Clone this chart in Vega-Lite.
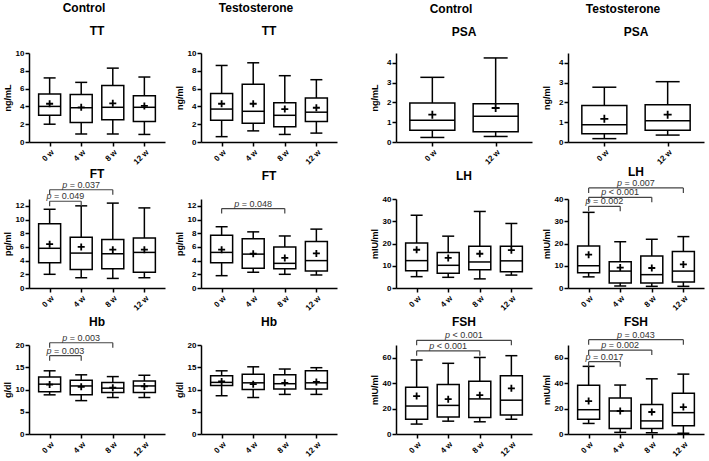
{
"$schema":"https://vega.github.io/schema/vega-lite/v6.json",
"background":"white",
"padding":{"left":3,"top":2,"right":2,"bottom":1},
"config":{
"view":{"stroke":null},
"font":"Liberation Sans",
"axis":{"grid":false,"domainColor":"black","domainWidth":1.5,"tickColor":"black","tickWidth":1.5,"tickSize":4,"labelFont":"Liberation Sans","labelFontWeight":"bold","labelFontSize":8,"labelColor":"black","labelPadding":1,"labelOverlap":false,"labelFlush":false,"labelBound":false,"titleFont":"Liberation Sans","titleFontWeight":"bold","titleFontSize":9,"titleColor":"black","titlePadding":3},
"axisX":{"labelAngle":-45,"labelPadding":2},
"axisY":{"minExtent":14,"maxExtent":14},
"title":{"font":"Liberation Sans","fontSize":12,"fontWeight":"bold","color":"black","anchor":"middle"}
},
"datasets":{
"boxes":[
{"panel":"C-TT","week":0,"min":2.0,"q1":3.0,"median":4.0,"q3":5.4,"max":7.2,"mean":4.3},
{"panel":"C-TT","week":4,"min":0.9,"q1":2.2,"median":3.85,"q3":5.35,"max":6.7,"mean":3.9},
{"panel":"C-TT","week":8,"min":0.9,"q1":2.5,"median":3.9,"q3":6.35,"max":8.3,"mean":4.35},
{"panel":"C-TT","week":12,"min":0.85,"q1":2.3,"median":3.9,"q3":5.2,"max":7.3,"mean":4.05},
{"panel":"T-TT","week":0,"min":0.6,"q1":2.45,"median":3.7,"q3":5.45,"max":8.6,"mean":4.3},
{"panel":"T-TT","week":4,"min":1.25,"q1":2.1,"median":3.45,"q3":6.5,"max":8.9,"mean":4.3},
{"panel":"T-TT","week":8,"min":0.85,"q1":1.7,"median":3.0,"q3":4.4,"max":7.45,"mean":3.7},
{"panel":"T-TT","week":12,"min":1.0,"q1":2.3,"median":3.35,"q3":4.95,"max":7.0,"mean":3.85},
{"panel":"C-PSA","week":0,"min":0.23,"q1":0.6,"median":1.1,"q3":1.97,"max":3.27,"mean":1.38},
{"panel":"C-PSA","week":12,"min":0.28,"q1":0.52,"median":1.3,"q3":1.93,"max":4.25,"mean":1.72},
{"panel":"T-PSA","week":0,"min":0.17,"q1":0.42,"median":0.87,"q3":1.85,"max":2.77,"mean":1.17},
{"panel":"T-PSA","week":12,"min":0.35,"q1":0.6,"median":1.08,"q3":1.88,"max":3.05,"mean":1.38},
{"panel":"C-FT","week":0,"min":2.0,"q1":3.7,"median":5.8,"q3":9.4,"max":11.5,"mean":6.4},
{"panel":"C-FT","week":4,"min":1.5,"q1":2.7,"median":5.1,"q3":7.4,"max":12.0,"mean":6.0},
{"panel":"C-FT","week":8,"min":1.4,"q1":2.8,"median":5.0,"q3":7.1,"max":12.4,"mean":5.6},
{"panel":"C-FT","week":12,"min":1.5,"q1":2.3,"median":5.2,"q3":7.3,"max":11.7,"mean":5.6},
{"panel":"T-FT","week":0,"min":1.8,"q1":3.7,"median":5.2,"q3":7.7,"max":8.95,"mean":5.6},
{"panel":"T-FT","week":4,"min":2.3,"q1":2.9,"median":4.95,"q3":7.2,"max":8.2,"mean":5.0},
{"panel":"T-FT","week":8,"min":2.0,"q1":2.8,"median":3.6,"q3":6.0,"max":7.6,"mean":4.4},
{"panel":"T-FT","week":12,"min":1.9,"q1":2.5,"median":4.0,"q3":6.8,"max":8.6,"mean":5.05},
{"panel":"C-LH","week":0,"min":5.1,"q1":7.8,"median":12.3,"q3":20.2,"max":32.7,"mean":17.2},
{"panel":"C-LH","week":4,"min":4.8,"q1":6.6,"median":10.2,"q3":15.9,"max":23.3,"mean":13.5},
{"panel":"C-LH","week":8,"min":4.1,"q1":8.2,"median":11.7,"q3":18.8,"max":34.4,"mean":15.4},
{"panel":"C-LH","week":12,"min":5.8,"q1":7.3,"median":12.2,"q3":18.8,"max":29.0,"mean":17.0},
{"panel":"T-LH","week":0,"min":5.0,"q1":6.8,"median":10.0,"q3":18.9,"max":34.0,"mean":15.0},
{"panel":"T-LH","week":4,"min":0.9,"q1":2.3,"median":7.6,"q3":11.8,"max":20.8,"mean":9.2},
{"panel":"T-LH","week":8,"min":0.75,"q1":2.2,"median":6.0,"q3":14.4,"max":21.9,"mean":9.0},
{"panel":"T-LH","week":12,"min":0.75,"q1":2.7,"median":7.6,"q3":16.4,"max":23.1,"mean":10.6},
{"panel":"C-Hb","week":0,"min":8.8,"q1":9.5,"median":11.2,"q3":12.8,"max":14.2,"mean":11.1},
{"panel":"C-Hb","week":4,"min":7.5,"q1":8.8,"median":10.8,"q3":12.1,"max":13.3,"mean":10.6},
{"panel":"C-Hb","week":8,"min":8.2,"q1":9.3,"median":10.3,"q3":11.6,"max":12.9,"mean":10.4},
{"panel":"C-Hb","week":12,"min":8.2,"q1":9.3,"median":10.8,"q3":11.9,"max":13.2,"mean":10.7},
{"panel":"T-Hb","week":0,"min":8.6,"q1":10.9,"median":11.6,"q3":13.1,"max":14.2,"mean":11.8},
{"panel":"T-Hb","week":4,"min":8.2,"q1":10.0,"median":11.5,"q3":13.4,"max":15.1,"mean":11.2},
{"panel":"T-Hb","week":8,"min":8.9,"q1":10.1,"median":11.3,"q3":13.3,"max":14.6,"mean":11.5},
{"panel":"T-Hb","week":12,"min":8.9,"q1":10.1,"median":11.5,"q3":14.2,"max":14.9,"mean":11.7},
{"panel":"C-FSH","week":0,"min":7.8,"q1":11.6,"median":22.0,"q3":36.7,"max":58.2,"mean":29.8},
{"panel":"C-FSH","week":4,"min":10.1,"q1":13.4,"median":22.5,"q3":39.0,"max":55.6,"mean":27.4},
{"panel":"C-FSH","week":8,"min":9.6,"q1":12.9,"median":27.6,"q3":41.5,"max":60.2,"mean":30.5},
{"panel":"C-FSH","week":12,"min":11.6,"q1":15.0,"median":26.6,"q3":45.8,"max":61.6,"mean":35.9},
{"panel":"T-FSH","week":0,"min":8.3,"q1":11.6,"median":19.1,"q3":38.3,"max":53.2,"mean":25.9},
{"panel":"T-FSH","week":4,"min":1.3,"q1":4.4,"median":18.1,"q3":28.4,"max":38.5,"mean":18.1},
{"panel":"T-FSH","week":8,"min":1.0,"q1":4.4,"median":10.3,"q3":23.3,"max":43.4,"mean":17.3},
{"panel":"T-FSH","week":12,"min":0.6,"q1":6.5,"median":16.8,"q3":32.1,"max":47.1,"mean":21.2}
],
"brackets":[
{"panel":"C-FT","from":0,"to":8,"mid":4,"level":14.35,"label":"= 0.037"},
{"panel":"C-FT","from":0,"to":4,"mid":2,"level":12.67,"label":"= 0.049"},
{"panel":"T-FT","from":0,"to":8,"mid":4,"level":11.6,"label":"= 0.048"},
{"panel":"T-LH","from":0,"to":12,"mid":6,"level":45.0,"label":"= 0.007"},
{"panel":"T-LH","from":0,"to":8,"mid":4,"level":40.75,"label":"< 0.001"},
{"panel":"T-LH","from":0,"to":4,"mid":2,"level":36.7,"label":"= 0.002"},
{"panel":"C-Hb","from":0,"to":8,"mid":4,"level":20.5,"label":"= 0.003"},
{"panel":"C-Hb","from":0,"to":4,"mid":2,"level":17.6,"label":"= 0.003"},
{"panel":"C-FSH","from":0,"to":12,"mid":6,"level":73.7,"label":"< 0.001"},
{"panel":"C-FSH","from":0,"to":8,"mid":4,"level":65.4,"label":"< 0.001"},
{"panel":"T-FSH","from":0,"to":12,"mid":6,"level":74.2,"label":"= 0.043"},
{"panel":"T-FSH","from":0,"to":8,"mid":4,"level":66.0,"label":"= 0.002"},
{"panel":"T-FSH","from":0,"to":4,"mid":2,"level":56.9,"label":"= 0.017"}
]
},
"spacing":33,
"hconcat":[
{"spacing":10,"hconcat":[
{"title":{"text":"Control","offset":10},"spacing":57,"bounds":"flush","vconcat":[
{"width":136,"height":89,"title":{"text":"TT","offset":11},"layer":[
{"data":{"name":"boxes"},"transform":[{"filter":{"field":"panel","equal":"C-TT"}}],
"encoding":{"x":{"field":"week","type":"quantitative","scale":{"domain":[-1.98,13.98],"nice":false,"zero":false},"axis":{"values":[0,4,8,12],"tickCount":20,"labelExpr":"datum.value + ' w'","title":null}}},
"layer":[
{"mark":{"type":"rule","color":"black","strokeWidth":1.5},"encoding":{"y":{"field":"min","type":"quantitative","scale":{"domain":[0,10],"nice":false,"zero":false},"axis":{"values":[0,2,4,6,8,10],"tickCount":20,"format":"d","title":"ng/mL"}},"y2":{"field":"max"}}},
{"mark":{"type":"bar","fill":"white","stroke":"black","strokeWidth":1.5,"size":22},"encoding":{"y":{"field":"q1","type":"quantitative"},"y2":{"field":"q3"}}},
{"mark":{"type":"tick","orient":"horizontal","color":"black","size":12,"thickness":1.5,"opacity":1},"encoding":{"y":{"field":"min","type":"quantitative"}}},
{"mark":{"type":"tick","orient":"horizontal","color":"black","size":12,"thickness":1.5,"opacity":1},"encoding":{"y":{"field":"max","type":"quantitative"}}},
{"mark":{"type":"tick","orient":"horizontal","color":"black","size":22,"thickness":1.5,"opacity":1},"encoding":{"y":{"field":"median","type":"quantitative"}}},
{"mark":{"type":"point","shape":"M-1,0L1,0M0,-1L0,1","size":49,"color":"black","strokeWidth":1.8,"filled":false,"opacity":1},"encoding":{"y":{"field":"mean","type":"quantitative"}}}
]}]},
{"width":136,"height":89,"title":{"text":"FT","offset":0},"layer":[
{"data":{"name":"boxes"},"transform":[{"filter":{"field":"panel","equal":"C-FT"}}],
"encoding":{"x":{"field":"week","type":"quantitative","scale":{"domain":[-1.98,13.98],"nice":false,"zero":false},"axis":{"values":[0,4,8,12],"tickCount":20,"labelExpr":"datum.value + ' w'","title":null}}},
"layer":[
{"mark":{"type":"rule","color":"black","strokeWidth":1.5},"encoding":{"y":{"field":"min","type":"quantitative","scale":{"domain":[0,13],"nice":false,"zero":false},"axis":{"values":[0,2,4,6,8,10,12],"tickCount":20,"format":"d","title":"pg/ml"}},"y2":{"field":"max"}}},
{"mark":{"type":"bar","fill":"white","stroke":"black","strokeWidth":1.5,"size":22},"encoding":{"y":{"field":"q1","type":"quantitative"},"y2":{"field":"q3"}}},
{"mark":{"type":"tick","orient":"horizontal","color":"black","size":12,"thickness":1.5,"opacity":1},"encoding":{"y":{"field":"min","type":"quantitative"}}},
{"mark":{"type":"tick","orient":"horizontal","color":"black","size":12,"thickness":1.5,"opacity":1},"encoding":{"y":{"field":"max","type":"quantitative"}}},
{"mark":{"type":"tick","orient":"horizontal","color":"black","size":22,"thickness":1.5,"opacity":1},"encoding":{"y":{"field":"median","type":"quantitative"}}},
{"mark":{"type":"point","shape":"M-1,0L1,0M0,-1L0,1","size":49,"color":"black","strokeWidth":1.8,"filled":false,"opacity":1},"encoding":{"y":{"field":"mean","type":"quantitative"}}}
]},
{"data":{"name":"brackets"},"transform":[{"filter":{"field":"panel","equal":"C-FT"}}],"layer":[
{"mark":{"type":"rule","color":"#444","strokeWidth":1.2},"encoding":{"x":{"field":"from","type":"quantitative"},"x2":{"field":"to"},"y":{"field":"level","type":"quantitative"}}},
{"mark":{"type":"tick","orient":"vertical","color":"#444","size":5,"thickness":1.2,"yOffset":2.5,"opacity":1},"encoding":{"x":{"field":"from","type":"quantitative"},"y":{"field":"level","type":"quantitative"}}},
{"mark":{"type":"tick","orient":"vertical","color":"#444","size":5,"thickness":1.2,"yOffset":2.5,"opacity":1},"encoding":{"x":{"field":"to","type":"quantitative"},"y":{"field":"level","type":"quantitative"}}},
{"mark":{"type":"text","text":"p","fontStyle":"italic","align":"left","baseline":"alphabetic","dx":-19,"dy":-2,"fontSize":9,"color":"#333"},"encoding":{"x":{"field":"mid","type":"quantitative"},"y":{"field":"level","type":"quantitative"}}},
{"mark":{"type":"text","align":"left","baseline":"alphabetic","dx":-11.5,"dy":-2,"fontSize":9,"color":"#333"},"encoding":{"x":{"field":"mid","type":"quantitative"},"y":{"field":"level","type":"quantitative"},"text":{"field":"label"}}}
]}]},
{"width":136,"height":89,"title":{"text":"Hb","offset":5},"layer":[
{"data":{"name":"boxes"},"transform":[{"filter":{"field":"panel","equal":"C-Hb"}}],
"encoding":{"x":{"field":"week","type":"quantitative","scale":{"domain":[-1.98,13.98],"nice":false,"zero":false},"axis":{"values":[0,4,8,12],"tickCount":20,"labelExpr":"datum.value + ' w'","title":null}}},
"layer":[
{"mark":{"type":"rule","color":"black","strokeWidth":1.5},"encoding":{"y":{"field":"min","type":"quantitative","scale":{"domain":[0,20],"nice":false,"zero":false},"axis":{"values":[0,5,10,15,20],"tickCount":20,"format":"d","title":"g/dl"}},"y2":{"field":"max"}}},
{"mark":{"type":"bar","fill":"white","stroke":"black","strokeWidth":1.5,"size":22},"encoding":{"y":{"field":"q1","type":"quantitative"},"y2":{"field":"q3"}}},
{"mark":{"type":"tick","orient":"horizontal","color":"black","size":12,"thickness":1.5,"opacity":1},"encoding":{"y":{"field":"min","type":"quantitative"}}},
{"mark":{"type":"tick","orient":"horizontal","color":"black","size":12,"thickness":1.5,"opacity":1},"encoding":{"y":{"field":"max","type":"quantitative"}}},
{"mark":{"type":"tick","orient":"horizontal","color":"black","size":22,"thickness":1.5,"opacity":1},"encoding":{"y":{"field":"median","type":"quantitative"}}},
{"mark":{"type":"point","shape":"M-1,0L1,0M0,-1L0,1","size":49,"color":"black","strokeWidth":1.8,"filled":false,"opacity":1},"encoding":{"y":{"field":"mean","type":"quantitative"}}}
]},
{"data":{"name":"brackets"},"transform":[{"filter":{"field":"panel","equal":"C-Hb"}}],"layer":[
{"mark":{"type":"rule","color":"#444","strokeWidth":1.2},"encoding":{"x":{"field":"from","type":"quantitative"},"x2":{"field":"to"},"y":{"field":"level","type":"quantitative"}}},
{"mark":{"type":"tick","orient":"vertical","color":"#444","size":5,"thickness":1.2,"yOffset":2.5,"opacity":1},"encoding":{"x":{"field":"from","type":"quantitative"},"y":{"field":"level","type":"quantitative"}}},
{"mark":{"type":"tick","orient":"vertical","color":"#444","size":5,"thickness":1.2,"yOffset":2.5,"opacity":1},"encoding":{"x":{"field":"to","type":"quantitative"},"y":{"field":"level","type":"quantitative"}}},
{"mark":{"type":"text","text":"p","fontStyle":"italic","align":"left","baseline":"alphabetic","dx":-19,"dy":-2,"fontSize":9,"color":"#333"},"encoding":{"x":{"field":"mid","type":"quantitative"},"y":{"field":"level","type":"quantitative"}}},
{"mark":{"type":"text","align":"left","baseline":"alphabetic","dx":-11.5,"dy":-2,"fontSize":9,"color":"#333"},"encoding":{"x":{"field":"mid","type":"quantitative"},"y":{"field":"level","type":"quantitative"},"text":{"field":"label"}}}
]}]}
]},
{"title":{"text":"Testosterone","offset":10},"spacing":57,"bounds":"flush","vconcat":[
{"width":136,"height":89,"title":{"text":"TT","offset":11},"layer":[
{"data":{"name":"boxes"},"transform":[{"filter":{"field":"panel","equal":"T-TT"}}],
"encoding":{"x":{"field":"week","type":"quantitative","scale":{"domain":[-1.98,13.98],"nice":false,"zero":false},"axis":{"values":[0,4,8,12],"tickCount":20,"labelExpr":"datum.value + ' w'","title":null}}},
"layer":[
{"mark":{"type":"rule","color":"black","strokeWidth":1.5},"encoding":{"y":{"field":"min","type":"quantitative","scale":{"domain":[0,10],"nice":false,"zero":false},"axis":{"values":[0,2,4,6,8,10],"tickCount":20,"format":"d","title":"ng/ml"}},"y2":{"field":"max"}}},
{"mark":{"type":"bar","fill":"white","stroke":"black","strokeWidth":1.5,"size":22},"encoding":{"y":{"field":"q1","type":"quantitative"},"y2":{"field":"q3"}}},
{"mark":{"type":"tick","orient":"horizontal","color":"black","size":12,"thickness":1.5,"opacity":1},"encoding":{"y":{"field":"min","type":"quantitative"}}},
{"mark":{"type":"tick","orient":"horizontal","color":"black","size":12,"thickness":1.5,"opacity":1},"encoding":{"y":{"field":"max","type":"quantitative"}}},
{"mark":{"type":"tick","orient":"horizontal","color":"black","size":22,"thickness":1.5,"opacity":1},"encoding":{"y":{"field":"median","type":"quantitative"}}},
{"mark":{"type":"point","shape":"M-1,0L1,0M0,-1L0,1","size":49,"color":"black","strokeWidth":1.8,"filled":false,"opacity":1},"encoding":{"y":{"field":"mean","type":"quantitative"}}}
]}]},
{"width":136,"height":89,"title":{"text":"FT","offset":16},"layer":[
{"data":{"name":"boxes"},"transform":[{"filter":{"field":"panel","equal":"T-FT"}}],
"encoding":{"x":{"field":"week","type":"quantitative","scale":{"domain":[-1.98,13.98],"nice":false,"zero":false},"axis":{"values":[0,4,8,12],"tickCount":20,"labelExpr":"datum.value + ' w'","title":null}}},
"layer":[
{"mark":{"type":"rule","color":"black","strokeWidth":1.5},"encoding":{"y":{"field":"min","type":"quantitative","scale":{"domain":[0,13],"nice":false,"zero":false},"axis":{"values":[0,2,4,6,8,10,12],"tickCount":20,"format":"d","title":"pg/ml"}},"y2":{"field":"max"}}},
{"mark":{"type":"bar","fill":"white","stroke":"black","strokeWidth":1.5,"size":22},"encoding":{"y":{"field":"q1","type":"quantitative"},"y2":{"field":"q3"}}},
{"mark":{"type":"tick","orient":"horizontal","color":"black","size":12,"thickness":1.5,"opacity":1},"encoding":{"y":{"field":"min","type":"quantitative"}}},
{"mark":{"type":"tick","orient":"horizontal","color":"black","size":12,"thickness":1.5,"opacity":1},"encoding":{"y":{"field":"max","type":"quantitative"}}},
{"mark":{"type":"tick","orient":"horizontal","color":"black","size":22,"thickness":1.5,"opacity":1},"encoding":{"y":{"field":"median","type":"quantitative"}}},
{"mark":{"type":"point","shape":"M-1,0L1,0M0,-1L0,1","size":49,"color":"black","strokeWidth":1.8,"filled":false,"opacity":1},"encoding":{"y":{"field":"mean","type":"quantitative"}}}
]},
{"data":{"name":"brackets"},"transform":[{"filter":{"field":"panel","equal":"T-FT"}}],"layer":[
{"mark":{"type":"rule","color":"#444","strokeWidth":1.2},"encoding":{"x":{"field":"from","type":"quantitative"},"x2":{"field":"to"},"y":{"field":"level","type":"quantitative"}}},
{"mark":{"type":"tick","orient":"vertical","color":"#444","size":5,"thickness":1.2,"yOffset":2.5,"opacity":1},"encoding":{"x":{"field":"from","type":"quantitative"},"y":{"field":"level","type":"quantitative"}}},
{"mark":{"type":"tick","orient":"vertical","color":"#444","size":5,"thickness":1.2,"yOffset":2.5,"opacity":1},"encoding":{"x":{"field":"to","type":"quantitative"},"y":{"field":"level","type":"quantitative"}}},
{"mark":{"type":"text","text":"p","fontStyle":"italic","align":"left","baseline":"alphabetic","dx":-19,"dy":-2,"fontSize":9,"color":"#333"},"encoding":{"x":{"field":"mid","type":"quantitative"},"y":{"field":"level","type":"quantitative"}}},
{"mark":{"type":"text","align":"left","baseline":"alphabetic","dx":-11.5,"dy":-2,"fontSize":9,"color":"#333"},"encoding":{"x":{"field":"mid","type":"quantitative"},"y":{"field":"level","type":"quantitative"},"text":{"field":"label"}}}
]}]},
{"width":136,"height":89,"title":{"text":"Hb","offset":12},"layer":[
{"data":{"name":"boxes"},"transform":[{"filter":{"field":"panel","equal":"T-Hb"}}],
"encoding":{"x":{"field":"week","type":"quantitative","scale":{"domain":[-1.98,13.98],"nice":false,"zero":false},"axis":{"values":[0,4,8,12],"tickCount":20,"labelExpr":"datum.value + ' w'","title":null}}},
"layer":[
{"mark":{"type":"rule","color":"black","strokeWidth":1.5},"encoding":{"y":{"field":"min","type":"quantitative","scale":{"domain":[0,20],"nice":false,"zero":false},"axis":{"values":[0,5,10,15,20],"tickCount":20,"format":"d","title":"g/dl"}},"y2":{"field":"max"}}},
{"mark":{"type":"bar","fill":"white","stroke":"black","strokeWidth":1.5,"size":22},"encoding":{"y":{"field":"q1","type":"quantitative"},"y2":{"field":"q3"}}},
{"mark":{"type":"tick","orient":"horizontal","color":"black","size":12,"thickness":1.5,"opacity":1},"encoding":{"y":{"field":"min","type":"quantitative"}}},
{"mark":{"type":"tick","orient":"horizontal","color":"black","size":12,"thickness":1.5,"opacity":1},"encoding":{"y":{"field":"max","type":"quantitative"}}},
{"mark":{"type":"tick","orient":"horizontal","color":"black","size":22,"thickness":1.5,"opacity":1},"encoding":{"y":{"field":"median","type":"quantitative"}}},
{"mark":{"type":"point","shape":"M-1,0L1,0M0,-1L0,1","size":49,"color":"black","strokeWidth":1.8,"filled":false,"opacity":1},"encoding":{"y":{"field":"mean","type":"quantitative"}}}
]}]}
]}
]},
{"spacing":10,"hconcat":[
{"title":{"text":"Control","offset":10},"spacing":57,"bounds":"flush","vconcat":[
{"width":136,"height":89,"title":{"text":"PSA","offset":14},"layer":[
{"data":{"name":"boxes"},"transform":[{"filter":{"field":"panel","equal":"C-PSA"}}],
"encoding":{"x":{"field":"week","type":"quantitative","scale":{"domain":[-5.94,17.94],"nice":false,"zero":false},"axis":{"values":[0,12],"tickCount":20,"labelExpr":"datum.value + ' w'","title":null}}},
"layer":[
{"mark":{"type":"rule","color":"black","strokeWidth":1.5},"encoding":{"y":{"field":"min","type":"quantitative","scale":{"domain":[0,4.5],"nice":false,"zero":false},"axis":{"values":[0,1,2,3,4],"tickCount":20,"format":"d","title":"ng/mL"}},"y2":{"field":"max"}}},
{"mark":{"type":"bar","fill":"white","stroke":"black","strokeWidth":1.5,"size":45},"encoding":{"y":{"field":"q1","type":"quantitative"},"y2":{"field":"q3"}}},
{"mark":{"type":"tick","orient":"horizontal","color":"black","size":24,"thickness":1.5,"opacity":1},"encoding":{"y":{"field":"min","type":"quantitative"}}},
{"mark":{"type":"tick","orient":"horizontal","color":"black","size":24,"thickness":1.5,"opacity":1},"encoding":{"y":{"field":"max","type":"quantitative"}}},
{"mark":{"type":"tick","orient":"horizontal","color":"black","size":45,"thickness":1.5,"opacity":1},"encoding":{"y":{"field":"median","type":"quantitative"}}},
{"mark":{"type":"point","shape":"M-1,0L1,0M0,-1L0,1","size":64,"color":"black","strokeWidth":1.8,"filled":false,"opacity":1},"encoding":{"y":{"field":"mean","type":"quantitative"}}}
]}]},
{"width":136,"height":89,"title":{"text":"LH","offset":12},"layer":[
{"data":{"name":"boxes"},"transform":[{"filter":{"field":"panel","equal":"C-LH"}}],
"encoding":{"x":{"field":"week","type":"quantitative","scale":{"domain":[-1.98,13.98],"nice":false,"zero":false},"axis":{"values":[0,4,8,12],"tickCount":20,"labelExpr":"datum.value + ' w'","title":null}}},
"layer":[
{"mark":{"type":"rule","color":"black","strokeWidth":1.5},"encoding":{"y":{"field":"min","type":"quantitative","scale":{"domain":[0,40],"nice":false,"zero":false},"axis":{"values":[0,10,20,30,40],"tickCount":20,"format":"d","title":"mIU/ml"}},"y2":{"field":"max"}}},
{"mark":{"type":"bar","fill":"white","stroke":"black","strokeWidth":1.5,"size":22},"encoding":{"y":{"field":"q1","type":"quantitative"},"y2":{"field":"q3"}}},
{"mark":{"type":"tick","orient":"horizontal","color":"black","size":12,"thickness":1.5,"opacity":1},"encoding":{"y":{"field":"min","type":"quantitative"}}},
{"mark":{"type":"tick","orient":"horizontal","color":"black","size":12,"thickness":1.5,"opacity":1},"encoding":{"y":{"field":"max","type":"quantitative"}}},
{"mark":{"type":"tick","orient":"horizontal","color":"black","size":22,"thickness":1.5,"opacity":1},"encoding":{"y":{"field":"median","type":"quantitative"}}},
{"mark":{"type":"point","shape":"M-1,0L1,0M0,-1L0,1","size":49,"color":"black","strokeWidth":1.8,"filled":false,"opacity":1},"encoding":{"y":{"field":"mean","type":"quantitative"}}}
]}]},
{"width":136,"height":89,"title":{"text":"FSH","offset":2},"layer":[
{"data":{"name":"boxes"},"transform":[{"filter":{"field":"panel","equal":"C-FSH"}}],
"encoding":{"x":{"field":"week","type":"quantitative","scale":{"domain":[-1.98,13.98],"nice":false,"zero":false},"axis":{"values":[0,4,8,12],"tickCount":20,"labelExpr":"datum.value + ' w'","title":null}}},
"layer":[
{"mark":{"type":"rule","color":"black","strokeWidth":1.5},"encoding":{"y":{"field":"min","type":"quantitative","scale":{"domain":[0,70],"nice":false,"zero":false},"axis":{"values":[0,20,40,60],"tickCount":20,"format":"d","title":"mIU/ml"}},"y2":{"field":"max"}}},
{"mark":{"type":"bar","fill":"white","stroke":"black","strokeWidth":1.5,"size":22},"encoding":{"y":{"field":"q1","type":"quantitative"},"y2":{"field":"q3"}}},
{"mark":{"type":"tick","orient":"horizontal","color":"black","size":12,"thickness":1.5,"opacity":1},"encoding":{"y":{"field":"min","type":"quantitative"}}},
{"mark":{"type":"tick","orient":"horizontal","color":"black","size":12,"thickness":1.5,"opacity":1},"encoding":{"y":{"field":"max","type":"quantitative"}}},
{"mark":{"type":"tick","orient":"horizontal","color":"black","size":22,"thickness":1.5,"opacity":1},"encoding":{"y":{"field":"median","type":"quantitative"}}},
{"mark":{"type":"point","shape":"M-1,0L1,0M0,-1L0,1","size":49,"color":"black","strokeWidth":1.8,"filled":false,"opacity":1},"encoding":{"y":{"field":"mean","type":"quantitative"}}}
]},
{"data":{"name":"brackets"},"transform":[{"filter":{"field":"panel","equal":"C-FSH"}}],"layer":[
{"mark":{"type":"rule","color":"#444","strokeWidth":1.2},"encoding":{"x":{"field":"from","type":"quantitative"},"x2":{"field":"to"},"y":{"field":"level","type":"quantitative"}}},
{"mark":{"type":"tick","orient":"vertical","color":"#444","size":5,"thickness":1.2,"yOffset":2.5,"opacity":1},"encoding":{"x":{"field":"from","type":"quantitative"},"y":{"field":"level","type":"quantitative"}}},
{"mark":{"type":"tick","orient":"vertical","color":"#444","size":5,"thickness":1.2,"yOffset":2.5,"opacity":1},"encoding":{"x":{"field":"to","type":"quantitative"},"y":{"field":"level","type":"quantitative"}}},
{"mark":{"type":"text","text":"p","fontStyle":"italic","align":"left","baseline":"alphabetic","dx":-19,"dy":-2,"fontSize":9,"color":"#333"},"encoding":{"x":{"field":"mid","type":"quantitative"},"y":{"field":"level","type":"quantitative"}}},
{"mark":{"type":"text","align":"left","baseline":"alphabetic","dx":-11.5,"dy":-2,"fontSize":9,"color":"#333"},"encoding":{"x":{"field":"mid","type":"quantitative"},"y":{"field":"level","type":"quantitative"},"text":{"field":"label"}}}
]}]}
]},
{"title":{"text":"Testosterone","offset":10},"spacing":57,"bounds":"flush","vconcat":[
{"width":136,"height":89,"title":{"text":"PSA","offset":14},"layer":[
{"data":{"name":"boxes"},"transform":[{"filter":{"field":"panel","equal":"T-PSA"}}],
"encoding":{"x":{"field":"week","type":"quantitative","scale":{"domain":[-5.94,17.94],"nice":false,"zero":false},"axis":{"values":[0,12],"tickCount":20,"labelExpr":"datum.value + ' w'","title":null}}},
"layer":[
{"mark":{"type":"rule","color":"black","strokeWidth":1.5},"encoding":{"y":{"field":"min","type":"quantitative","scale":{"domain":[0,4.5],"nice":false,"zero":false},"axis":{"values":[0,1,2,3,4],"tickCount":20,"format":"d","title":"ng/ml"}},"y2":{"field":"max"}}},
{"mark":{"type":"bar","fill":"white","stroke":"black","strokeWidth":1.5,"size":45},"encoding":{"y":{"field":"q1","type":"quantitative"},"y2":{"field":"q3"}}},
{"mark":{"type":"tick","orient":"horizontal","color":"black","size":24,"thickness":1.5,"opacity":1},"encoding":{"y":{"field":"min","type":"quantitative"}}},
{"mark":{"type":"tick","orient":"horizontal","color":"black","size":24,"thickness":1.5,"opacity":1},"encoding":{"y":{"field":"max","type":"quantitative"}}},
{"mark":{"type":"tick","orient":"horizontal","color":"black","size":45,"thickness":1.5,"opacity":1},"encoding":{"y":{"field":"median","type":"quantitative"}}},
{"mark":{"type":"point","shape":"M-1,0L1,0M0,-1L0,1","size":64,"color":"black","strokeWidth":1.8,"filled":false,"opacity":1},"encoding":{"y":{"field":"mean","type":"quantitative"}}}
]}]},
{"width":136,"height":89,"title":{"text":"LH","offset":0},"layer":[
{"data":{"name":"boxes"},"transform":[{"filter":{"field":"panel","equal":"T-LH"}}],
"encoding":{"x":{"field":"week","type":"quantitative","scale":{"domain":[-1.98,13.98],"nice":false,"zero":false},"axis":{"values":[0,4,8,12],"tickCount":20,"labelExpr":"datum.value + ' w'","title":null}}},
"layer":[
{"mark":{"type":"rule","color":"black","strokeWidth":1.5},"encoding":{"y":{"field":"min","type":"quantitative","scale":{"domain":[0,40],"nice":false,"zero":false},"axis":{"values":[0,10,20,30,40],"tickCount":20,"format":"d","title":"mIU/ml"}},"y2":{"field":"max"}}},
{"mark":{"type":"bar","fill":"white","stroke":"black","strokeWidth":1.5,"size":22},"encoding":{"y":{"field":"q1","type":"quantitative"},"y2":{"field":"q3"}}},
{"mark":{"type":"tick","orient":"horizontal","color":"black","size":12,"thickness":1.5,"opacity":1},"encoding":{"y":{"field":"min","type":"quantitative"}}},
{"mark":{"type":"tick","orient":"horizontal","color":"black","size":12,"thickness":1.5,"opacity":1},"encoding":{"y":{"field":"max","type":"quantitative"}}},
{"mark":{"type":"tick","orient":"horizontal","color":"black","size":22,"thickness":1.5,"opacity":1},"encoding":{"y":{"field":"median","type":"quantitative"}}},
{"mark":{"type":"point","shape":"M-1,0L1,0M0,-1L0,1","size":49,"color":"black","strokeWidth":1.8,"filled":false,"opacity":1},"encoding":{"y":{"field":"mean","type":"quantitative"}}}
]},
{"data":{"name":"brackets"},"transform":[{"filter":{"field":"panel","equal":"T-LH"}}],"layer":[
{"mark":{"type":"rule","color":"#444","strokeWidth":1.2},"encoding":{"x":{"field":"from","type":"quantitative"},"x2":{"field":"to"},"y":{"field":"level","type":"quantitative"}}},
{"mark":{"type":"tick","orient":"vertical","color":"#444","size":5,"thickness":1.2,"yOffset":2.5,"opacity":1},"encoding":{"x":{"field":"from","type":"quantitative"},"y":{"field":"level","type":"quantitative"}}},
{"mark":{"type":"tick","orient":"vertical","color":"#444","size":5,"thickness":1.2,"yOffset":2.5,"opacity":1},"encoding":{"x":{"field":"to","type":"quantitative"},"y":{"field":"level","type":"quantitative"}}},
{"mark":{"type":"text","text":"p","fontStyle":"italic","align":"left","baseline":"alphabetic","dx":-19,"dy":-2,"fontSize":9,"color":"#333"},"encoding":{"x":{"field":"mid","type":"quantitative"},"y":{"field":"level","type":"quantitative"}}},
{"mark":{"type":"text","align":"left","baseline":"alphabetic","dx":-11.5,"dy":-2,"fontSize":9,"color":"#333"},"encoding":{"x":{"field":"mid","type":"quantitative"},"y":{"field":"level","type":"quantitative"},"text":{"field":"label"}}}
]}]},
{"width":136,"height":89,"title":{"text":"FSH","offset":2},"layer":[
{"data":{"name":"boxes"},"transform":[{"filter":{"field":"panel","equal":"T-FSH"}}],
"encoding":{"x":{"field":"week","type":"quantitative","scale":{"domain":[-1.98,13.98],"nice":false,"zero":false},"axis":{"values":[0,4,8,12],"tickCount":20,"labelExpr":"datum.value + ' w'","title":null}}},
"layer":[
{"mark":{"type":"rule","color":"black","strokeWidth":1.5},"encoding":{"y":{"field":"min","type":"quantitative","scale":{"domain":[0,70],"nice":false,"zero":false},"axis":{"values":[0,20,40,60],"tickCount":20,"format":"d","title":"mIU/ml"}},"y2":{"field":"max"}}},
{"mark":{"type":"bar","fill":"white","stroke":"black","strokeWidth":1.5,"size":22},"encoding":{"y":{"field":"q1","type":"quantitative"},"y2":{"field":"q3"}}},
{"mark":{"type":"tick","orient":"horizontal","color":"black","size":12,"thickness":1.5,"opacity":1},"encoding":{"y":{"field":"min","type":"quantitative"}}},
{"mark":{"type":"tick","orient":"horizontal","color":"black","size":12,"thickness":1.5,"opacity":1},"encoding":{"y":{"field":"max","type":"quantitative"}}},
{"mark":{"type":"tick","orient":"horizontal","color":"black","size":22,"thickness":1.5,"opacity":1},"encoding":{"y":{"field":"median","type":"quantitative"}}},
{"mark":{"type":"point","shape":"M-1,0L1,0M0,-1L0,1","size":49,"color":"black","strokeWidth":1.8,"filled":false,"opacity":1},"encoding":{"y":{"field":"mean","type":"quantitative"}}}
]},
{"data":{"name":"brackets"},"transform":[{"filter":{"field":"panel","equal":"T-FSH"}}],"layer":[
{"mark":{"type":"rule","color":"#444","strokeWidth":1.2},"encoding":{"x":{"field":"from","type":"quantitative"},"x2":{"field":"to"},"y":{"field":"level","type":"quantitative"}}},
{"mark":{"type":"tick","orient":"vertical","color":"#444","size":5,"thickness":1.2,"yOffset":2.5,"opacity":1},"encoding":{"x":{"field":"from","type":"quantitative"},"y":{"field":"level","type":"quantitative"}}},
{"mark":{"type":"tick","orient":"vertical","color":"#444","size":5,"thickness":1.2,"yOffset":2.5,"opacity":1},"encoding":{"x":{"field":"to","type":"quantitative"},"y":{"field":"level","type":"quantitative"}}},
{"mark":{"type":"text","text":"p","fontStyle":"italic","align":"left","baseline":"alphabetic","dx":-19,"dy":-2,"fontSize":9,"color":"#333"},"encoding":{"x":{"field":"mid","type":"quantitative"},"y":{"field":"level","type":"quantitative"}}},
{"mark":{"type":"text","align":"left","baseline":"alphabetic","dx":-11.5,"dy":-2,"fontSize":9,"color":"#333"},"encoding":{"x":{"field":"mid","type":"quantitative"},"y":{"field":"level","type":"quantitative"},"text":{"field":"label"}}}
]}]}
]}
]}
]
}
